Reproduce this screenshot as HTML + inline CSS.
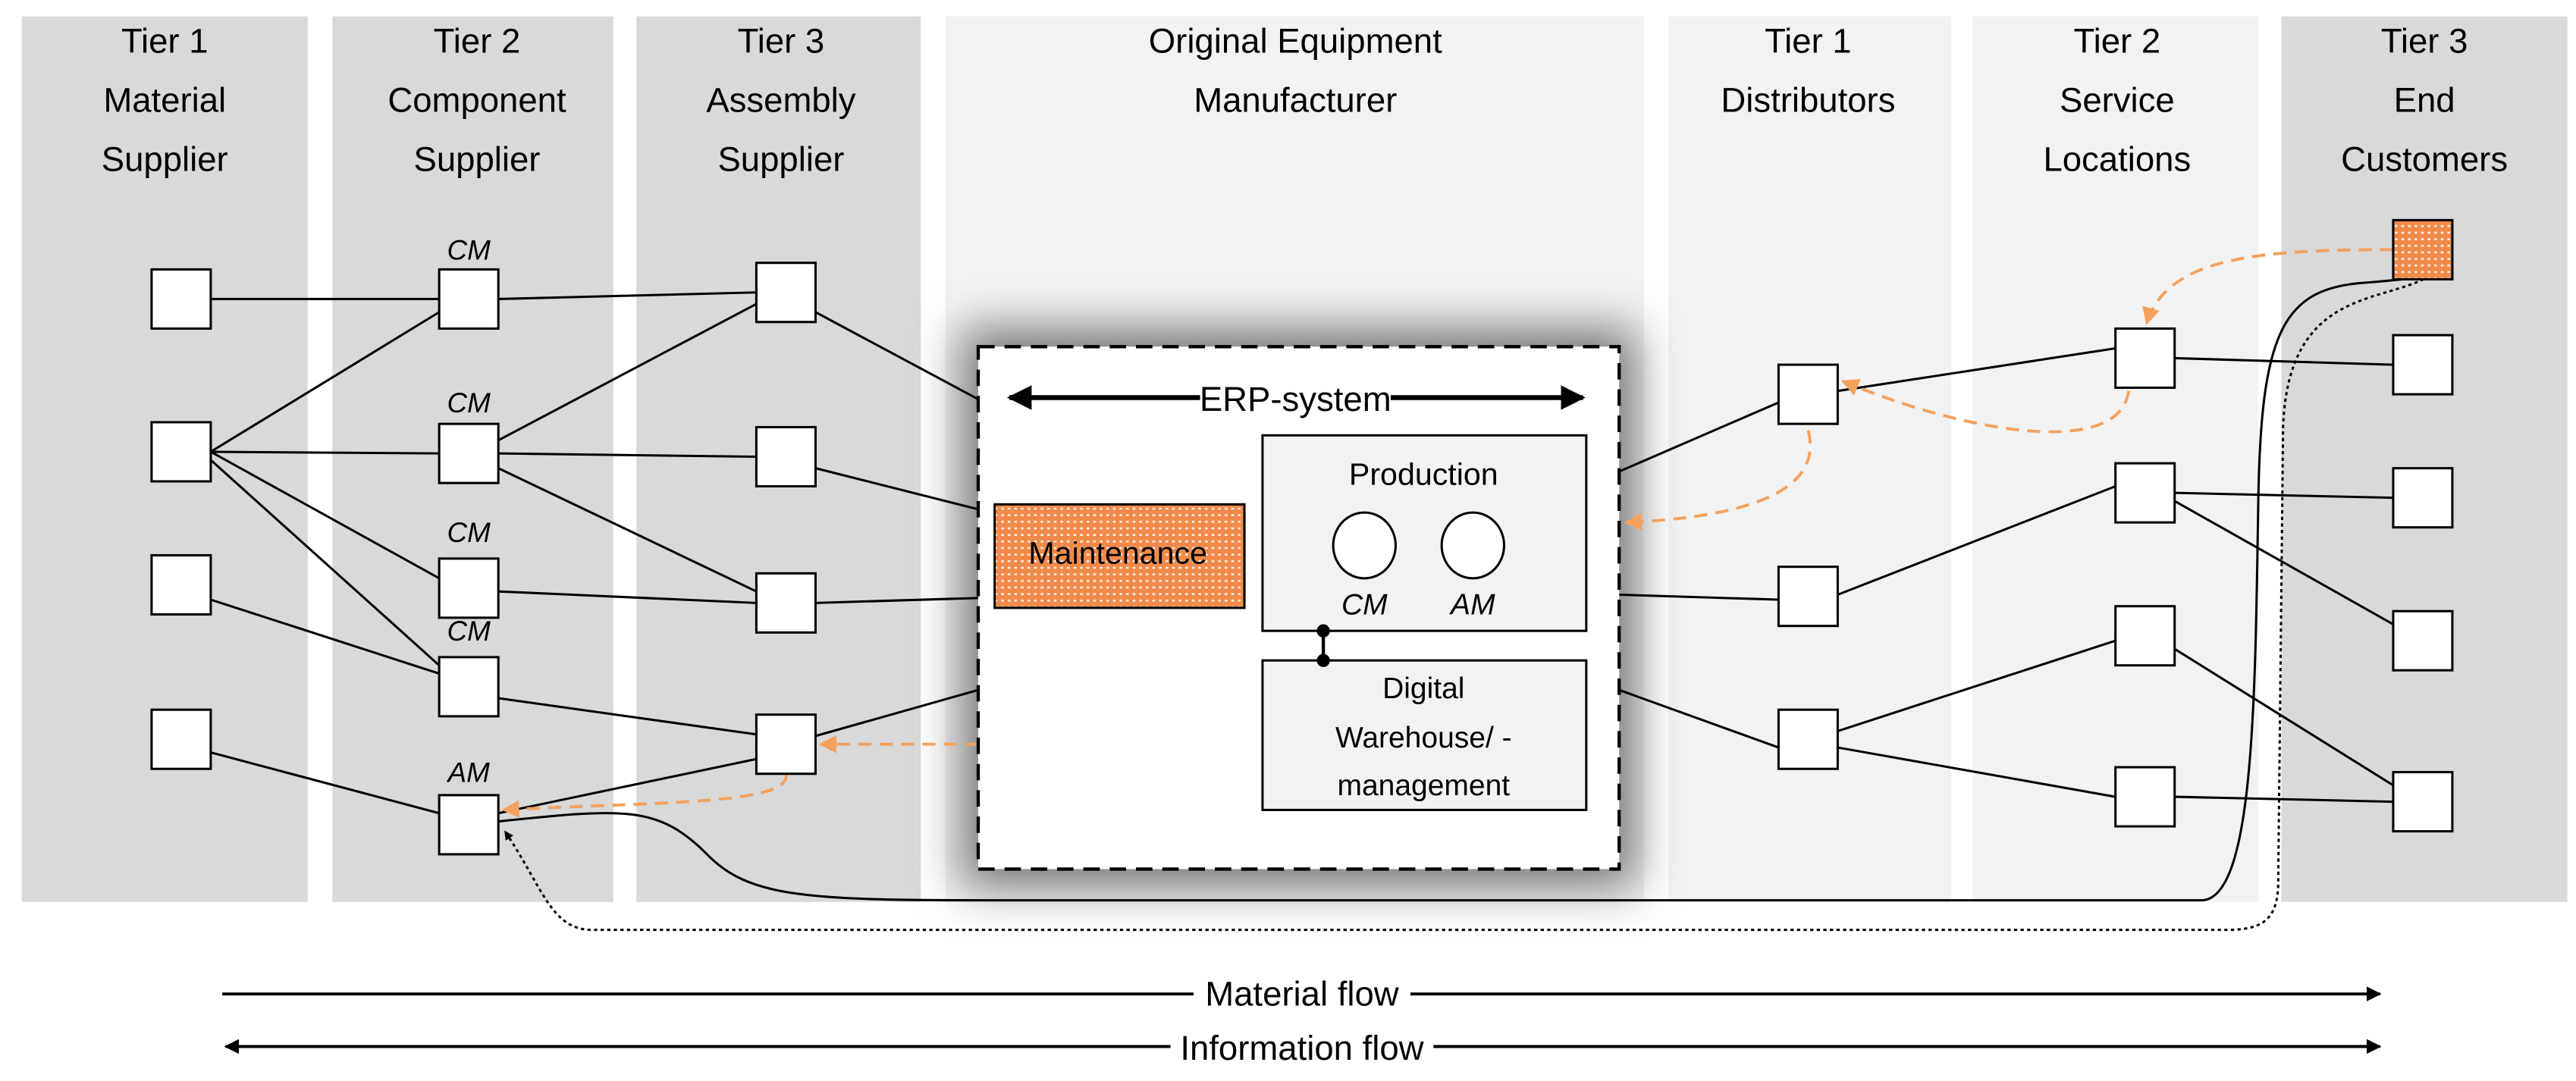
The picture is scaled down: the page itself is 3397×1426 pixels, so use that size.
<!DOCTYPE html>
<html><head><meta charset="utf-8"><style>
html,body{margin:0;padding:0;background:#fff;}
svg{display:block;}
text{font-family:"Liberation Sans",sans-serif;fill:#000;}
</style></head><body>
<svg width="3397" height="1426" viewBox="0 0 1567 658" xmlns="http://www.w3.org/2000/svg">
<defs>
<pattern id="dots" width="4" height="4" patternUnits="userSpaceOnUse">
<rect width="4" height="4" fill="#f08a4b"/><rect x="1" y="1" width="1.6" height="1.2" fill="#fff" opacity="0.85"/>
</pattern>
<filter id="sh" x="-30%" y="-30%" width="160%" height="160%"><feGaussianBlur stdDeviation="14"/></filter>
<marker id="ab" viewBox="0 0 10 10" refX="9" refY="5" markerWidth="5" markerHeight="5" orient="auto-start-reverse"><path d="M0,0 L10,5 L0,10 z" fill="#000"/></marker>
<marker id="ao" viewBox="0 0 10 10" refX="9" refY="5" markerWidth="6" markerHeight="6" orient="auto-start-reverse"><path d="M0,0 L10,5 L0,10 z" fill="#f4a15d"/></marker>
<marker id="as" viewBox="0 0 10 10" refX="9" refY="5" markerWidth="4" markerHeight="4" orient="auto"><path d="M0,0 L10,5 L0,10 z" fill="#000"/></marker>
</defs>
<rect x="13" y="10" width="174" height="539" fill="#d9d9d9"/>
<rect x="202" y="10" width="171" height="539" fill="#d9d9d9"/>
<rect x="387" y="10" width="173" height="539" fill="#d9d9d9"/>
<rect x="575" y="10" width="425" height="539" fill="#f2f2f2"/>
<rect x="1015" y="10" width="172" height="539" fill="#f2f2f2"/>
<rect x="1200" y="10" width="174" height="539" fill="#f2f2f2"/>
<rect x="1388" y="10" width="174" height="539" fill="#d9d9d9"/>
<rect x="585" y="200" width="410" height="340" fill="#777" filter="url(#sh)"/>
<g font-size="21" text-anchor="middle">
<text x="100" y="32">Tier 1</text><text x="100" y="68">Material</text><text x="100" y="104">Supplier</text>
<text x="290" y="32">Tier 2</text><text x="290" y="68">Component</text><text x="290" y="104">Supplier</text>
<text x="475" y="32">Tier 3</text><text x="475" y="68">Assembly</text><text x="475" y="104">Supplier</text>
<text x="788" y="32">Original Equipment</text><text x="788" y="68">Manufacturer</text>
<text x="1100" y="32">Tier 1</text><text x="1100" y="68">Distributors</text>
<text x="1288" y="32">Tier 2</text><text x="1288" y="68">Service</text><text x="1288" y="104">Locations</text>
<text x="1475" y="32">Tier 3</text><text x="1475" y="68">End</text><text x="1475" y="104">Customers</text>
</g>
<g stroke="#000" stroke-width="1.4" fill="none">
<path d="M128,182 L267,182"/><path d="M303,182 L460,178"/>
<path d="M128,275 L267,190"/><path d="M128,275 L267,276"/><path d="M128,275 L267,352"/><path d="M128,280 L267,405"/>
<path d="M128,365 L267,410"/><path d="M128,458 L267,495"/>
<path d="M303,268 L460,185"/><path d="M303,276 L460,278"/><path d="M303,285 L460,360"/>
<path d="M303,360 L460,367"/><path d="M303,425 L460,447"/><path d="M303,495 L460,462"/>
<path d="M496,190 L595,243"/><path d="M496,285 L595,310"/><path d="M496,367 L595,364"/><path d="M496,448 L595,420"/>
<path d="M985,287 L1082,245"/><path d="M985,362 L1082,365"/><path d="M985,420 L1082,455"/>
<path d="M1118,238 L1287,212"/><path d="M1323,218 L1456,222"/>
<path d="M1118,362 L1287,296"/><path d="M1323,300 L1456,303"/><path d="M1323,305 L1456,380"/>
<path d="M1118,445 L1287,390"/><path d="M1118,455 L1287,485"/><path d="M1323,395 L1456,478"/><path d="M1323,485 L1456,488"/>
<path d="M303,500 C380,492 400,490 430,520 C455,546 490,548 600,548 L1340,548 C1372,546 1372,420 1374,300 C1376,200 1390,175 1440,172 C1465,170 1478,168 1478,168"/>
<path d="M1478,168 C1450,185 1392,175 1389,260 L1386,540 C1385,560 1376,566 1355,566 L360,566 C335,566 330,540 307,506" stroke-dasharray="2,2" marker-end="url(#as)"/>
</g>
<g stroke="#f4a15d" stroke-width="1.8" fill="none" stroke-dasharray="8,5">
<path d="M1456,152 C1380,152 1318,155 1306,197" marker-end="url(#ao)"/>
<path d="M1295,238 C1290,278 1200,265 1121,232" marker-end="url(#ao)"/>
<path d="M1100,262 C1110,300 1060,315 989,318" marker-end="url(#ao)"/>
<path d="M595,453 L499,453" marker-end="url(#ao)"/>
<path d="M478,471 C482,490 400,488 306,493" marker-end="url(#ao)"/>
<path d="M680,370 C680,420 692,446 766,446" marker-end="url(#ao)"/>
</g>
<rect x="595" y="211" width="390" height="318" fill="#fff" stroke="#000" stroke-width="2" stroke-dasharray="10,6"/>
<path d="M614,242 L963,242" stroke="#000" stroke-width="3" marker-start="url(#ab)" marker-end="url(#ab)"/>
<rect x="730" y="228" width="116" height="28" fill="#fff"/>
<text x="788" y="250" font-size="21" text-anchor="middle">ERP-system</text>
<rect x="768" y="265" width="197" height="119" fill="#f2f2f2" stroke="#000" stroke-width="1.4"/>
<text x="866" y="295" font-size="19" text-anchor="middle">Production</text>
<ellipse cx="830" cy="332" rx="19" ry="20" fill="#fff" stroke="#000" stroke-width="1.4"/>
<ellipse cx="896" cy="332" rx="19" ry="20" fill="#fff" stroke="#000" stroke-width="1.4"/>
<text x="830" y="374" font-size="18" font-style="italic" text-anchor="middle">CM</text>
<text x="896" y="374" font-size="18" font-style="italic" text-anchor="middle">AM</text>
<rect x="768" y="402" width="197" height="91" fill="#f2f2f2" stroke="#000" stroke-width="1.4"/>
<text x="866" y="425" font-size="18" text-anchor="middle">Digital</text>
<text x="866" y="455" font-size="18" text-anchor="middle">Warehouse/ -</text>
<text x="866" y="484" font-size="18" text-anchor="middle">management</text>
<path d="M805,384 L805,402" stroke="#000" stroke-width="2"/>
<circle cx="805" cy="384" r="4"/><circle cx="805" cy="402" r="4"/>
<rect x="605" y="307" width="152" height="63" fill="url(#dots)" stroke="#000" stroke-width="1.4"/>
<text x="680" y="343" font-size="19" text-anchor="middle">Maintenance</text>
<g fill="#fff" stroke="#000" stroke-width="1.4">
<rect x="92" y="164" width="36" height="36"/><rect x="92" y="257" width="36" height="36"/><rect x="92" y="338" width="36" height="36"/><rect x="92" y="432" width="36" height="36"/>
<rect x="267" y="164" width="36" height="36"/><rect x="267" y="258" width="36" height="36"/><rect x="267" y="340" width="36" height="36"/><rect x="267" y="400" width="36" height="36"/><rect x="267" y="484" width="36" height="36"/>
<rect x="460" y="160" width="36" height="36"/><rect x="460" y="260" width="36" height="36"/><rect x="460" y="349" width="36" height="36"/><rect x="460" y="435" width="36" height="36"/>
<rect x="1082" y="222" width="36" height="36"/><rect x="1082" y="345" width="36" height="36"/><rect x="1082" y="432" width="36" height="36"/>
<rect x="1287" y="200" width="36" height="36"/><rect x="1287" y="282" width="36" height="36"/><rect x="1287" y="369" width="36" height="36"/><rect x="1287" y="467" width="36" height="36"/>
<rect x="1456" y="204" width="36" height="36"/><rect x="1456" y="285" width="36" height="36"/><rect x="1456" y="372" width="36" height="36"/><rect x="1456" y="470" width="36" height="36"/>
</g>
<rect x="1456" y="134" width="36" height="36" fill="url(#dots)" stroke="#000" stroke-width="1.4"/>
<g font-size="17" font-style="italic" text-anchor="middle">
<text x="285" y="158">CM</text><text x="285" y="251">CM</text><text x="285" y="330">CM</text><text x="285" y="390">CM</text><text x="285" y="476">AM</text>
</g>
<path d="M135,605 L1448,605" stroke="#000" stroke-width="1.8" marker-end="url(#ab)"/>
<rect x="726" y="592" width="132" height="26" fill="#fff"/>
<text x="792" y="612" font-size="21" text-anchor="middle">Material flow</text>
<path d="M137,637 L1448,637" stroke="#000" stroke-width="1.8" marker-start="url(#ab)" marker-end="url(#ab)"/>
<rect x="712" y="624" width="160" height="28" fill="#fff"/>
<text x="792" y="645" font-size="21" text-anchor="middle">Information flow</text>
</svg>
</body></html>
